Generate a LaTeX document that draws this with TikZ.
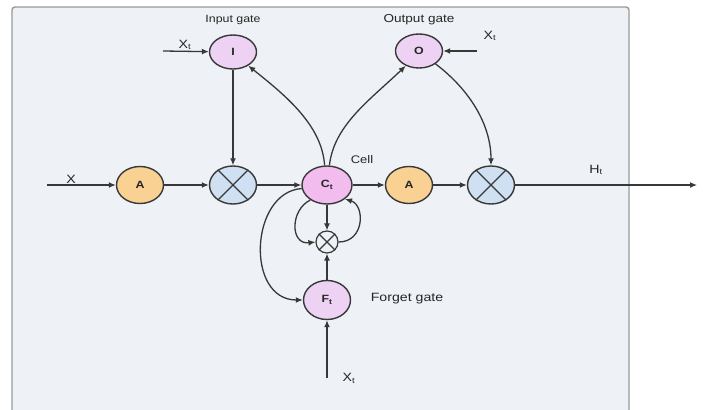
\documentclass[tikz,border=0pt]{standalone}
\usepackage{fontspec}
\setmainfont[FakeStretch=1.18]{Liberation Sans}
\usetikzlibrary{shapes.geometric,arrows.meta}
\definecolor{panelfill}{HTML}{EEF1F5}
\definecolor{panelline}{HTML}{9A9A9A}
\definecolor{ink}{HTML}{383838}
\definecolor{textink}{HTML}{262626}
\definecolor{gatefill}{HTML}{EED2F4}
\definecolor{cellfill}{HTML}{F2BCEE}
\definecolor{actfill}{HTML}{F9D193}
\definecolor{mulfill}{HTML}{CFE0F2}
\tikzset{
  unit/.style={ellipse, draw=ink, line width=1.4pt, minimum width=47pt, minimum height=37pt,
    inner sep=0pt, font=\fontsize{10.5}{12}\selectfont\bfseries, text=textink},
  gatenode/.style={unit, fill=gatefill},
  cellnode/.style={unit, fill=cellfill, minimum width=50pt, minimum height=38pt},
  actnode/.style={unit, fill=actfill},
  mulnode/.style={unit, fill=mulfill, minimum height=38pt},
  smallmul/.style={circle, draw=ink, line width=1.2pt, fill=panelfill, minimum size=22pt, inner sep=0pt},
  flow/.style={draw=ink, line width=1.3pt, -{Latex[length=7pt,width=6pt]}},
  lbl/.style={text=textink, inner sep=0pt, font=\fontsize{10.5}{12}\selectfont},
}
\newcommand{\crossin}[1]{\draw[ink, line width=1.3pt] (#1.45) -- (#1.225) (#1.135) -- (#1.315);}
\begin{document}
\begin{tikzpicture}[x=1pt,y=-1pt]
\useasboundingbox (0,0) rectangle (708,409);
% background panel
\fill[white] (0,0) rectangle (708,409);
\draw[panelline, fill=panelfill, line width=1.4pt, rounded corners=3pt] (12,7) rectangle (629,420);

% units
\node[gatenode, minimum height=34pt] (I) at (233,52) {I};
\node[gatenode, minimum height=34pt] (O) at (419,51) {O};
\node[actnode]  (A1) at (140,185) {A};
\node[mulnode]  (M1) at (233,185) {};
\node[cellnode] (C) at (327,185) {C\textsubscript{t}};
\node[actnode]  (A2) at (409,185) {A};
\node[mulnode]  (M2) at (491,185) {};
\node[smallmul] (S) at (327,242) {};
\node[gatenode, minimum height=39pt] (F) at (327,300) {F\textsubscript{t}};
\crossin{M1}
\crossin{M2}
\crossin{S}

% free ends
\coordinate (xin) at (47,185);
\coordinate (xi) at (163,51);
\coordinate (xo) at (477,51);
\coordinate (xf) at (327,378);
\coordinate (hout) at (697,185);

% labels
\node[lbl] (tin) at (233,20) {Input gate};
\node[lbl, font=\fontsize{11.5}{13}\selectfont] (tout) at (419,20) {Output gate};
\node[lbl, font=\fontsize{11}{13}\selectfont] (tcell) at (362,160) {Cell};
\node[lbl, font=\fontsize{12}{14}\selectfont] (tforget) at (407,299) {Forget gate};
\node[lbl, font=\fontsize{12}{14}\selectfont] (tx) at (71,179) {X};
\node[lbl, font=\fontsize{12}{14}\selectfont] (txi) at (185,45) {X\textsubscript{t}};
\node[lbl, font=\fontsize{12}{14}\selectfont] (txo) at (490,36) {X\textsubscript{t}};
\node[lbl, font=\fontsize{12}{14}\selectfont] (txf) at (349,378) {X\textsubscript{t}};
\node[lbl, font=\fontsize{12}{14}\selectfont] (th) at (596,170) {H\textsubscript{t}};

% main line
\draw[flow] (xin) -- (A1);
\draw[flow] (A1) -- (M1);
\draw[flow] (M1) -- (C);
\draw[flow] (C) -- (A2);
\draw[flow] (A2) -- (M2);
\draw[flow] (M2) -- (hout);

% gate inputs
\draw[flow] (xi) -- (I);
\draw[flow] (xo) -- (O);
\draw[flow] (xf) -- (F);
\draw[flow] (I) -- (M1);
\draw[flow] (F) -- (S);
\draw[flow] (C) -- (S);

% curved connections
\draw[flow] (C.97) .. controls (322,125) and (285,95) .. (I.-42);
\draw[flow] (C.83) .. controls (334,125) and (370,100) .. (O.228);
\draw[flow] (O.-38) .. controls (470,90) and (491,125) .. (M2.north);
\draw[flow] (C.222) .. controls (290,210) and (290,245) .. (S.west);
\draw[flow] (S.east) .. controls (365,242) and (365,205) .. (C.-38);
\draw[flow] (C.188) .. controls (250,192) and (245,300) .. (F.west);
\end{tikzpicture}
\end{document}
